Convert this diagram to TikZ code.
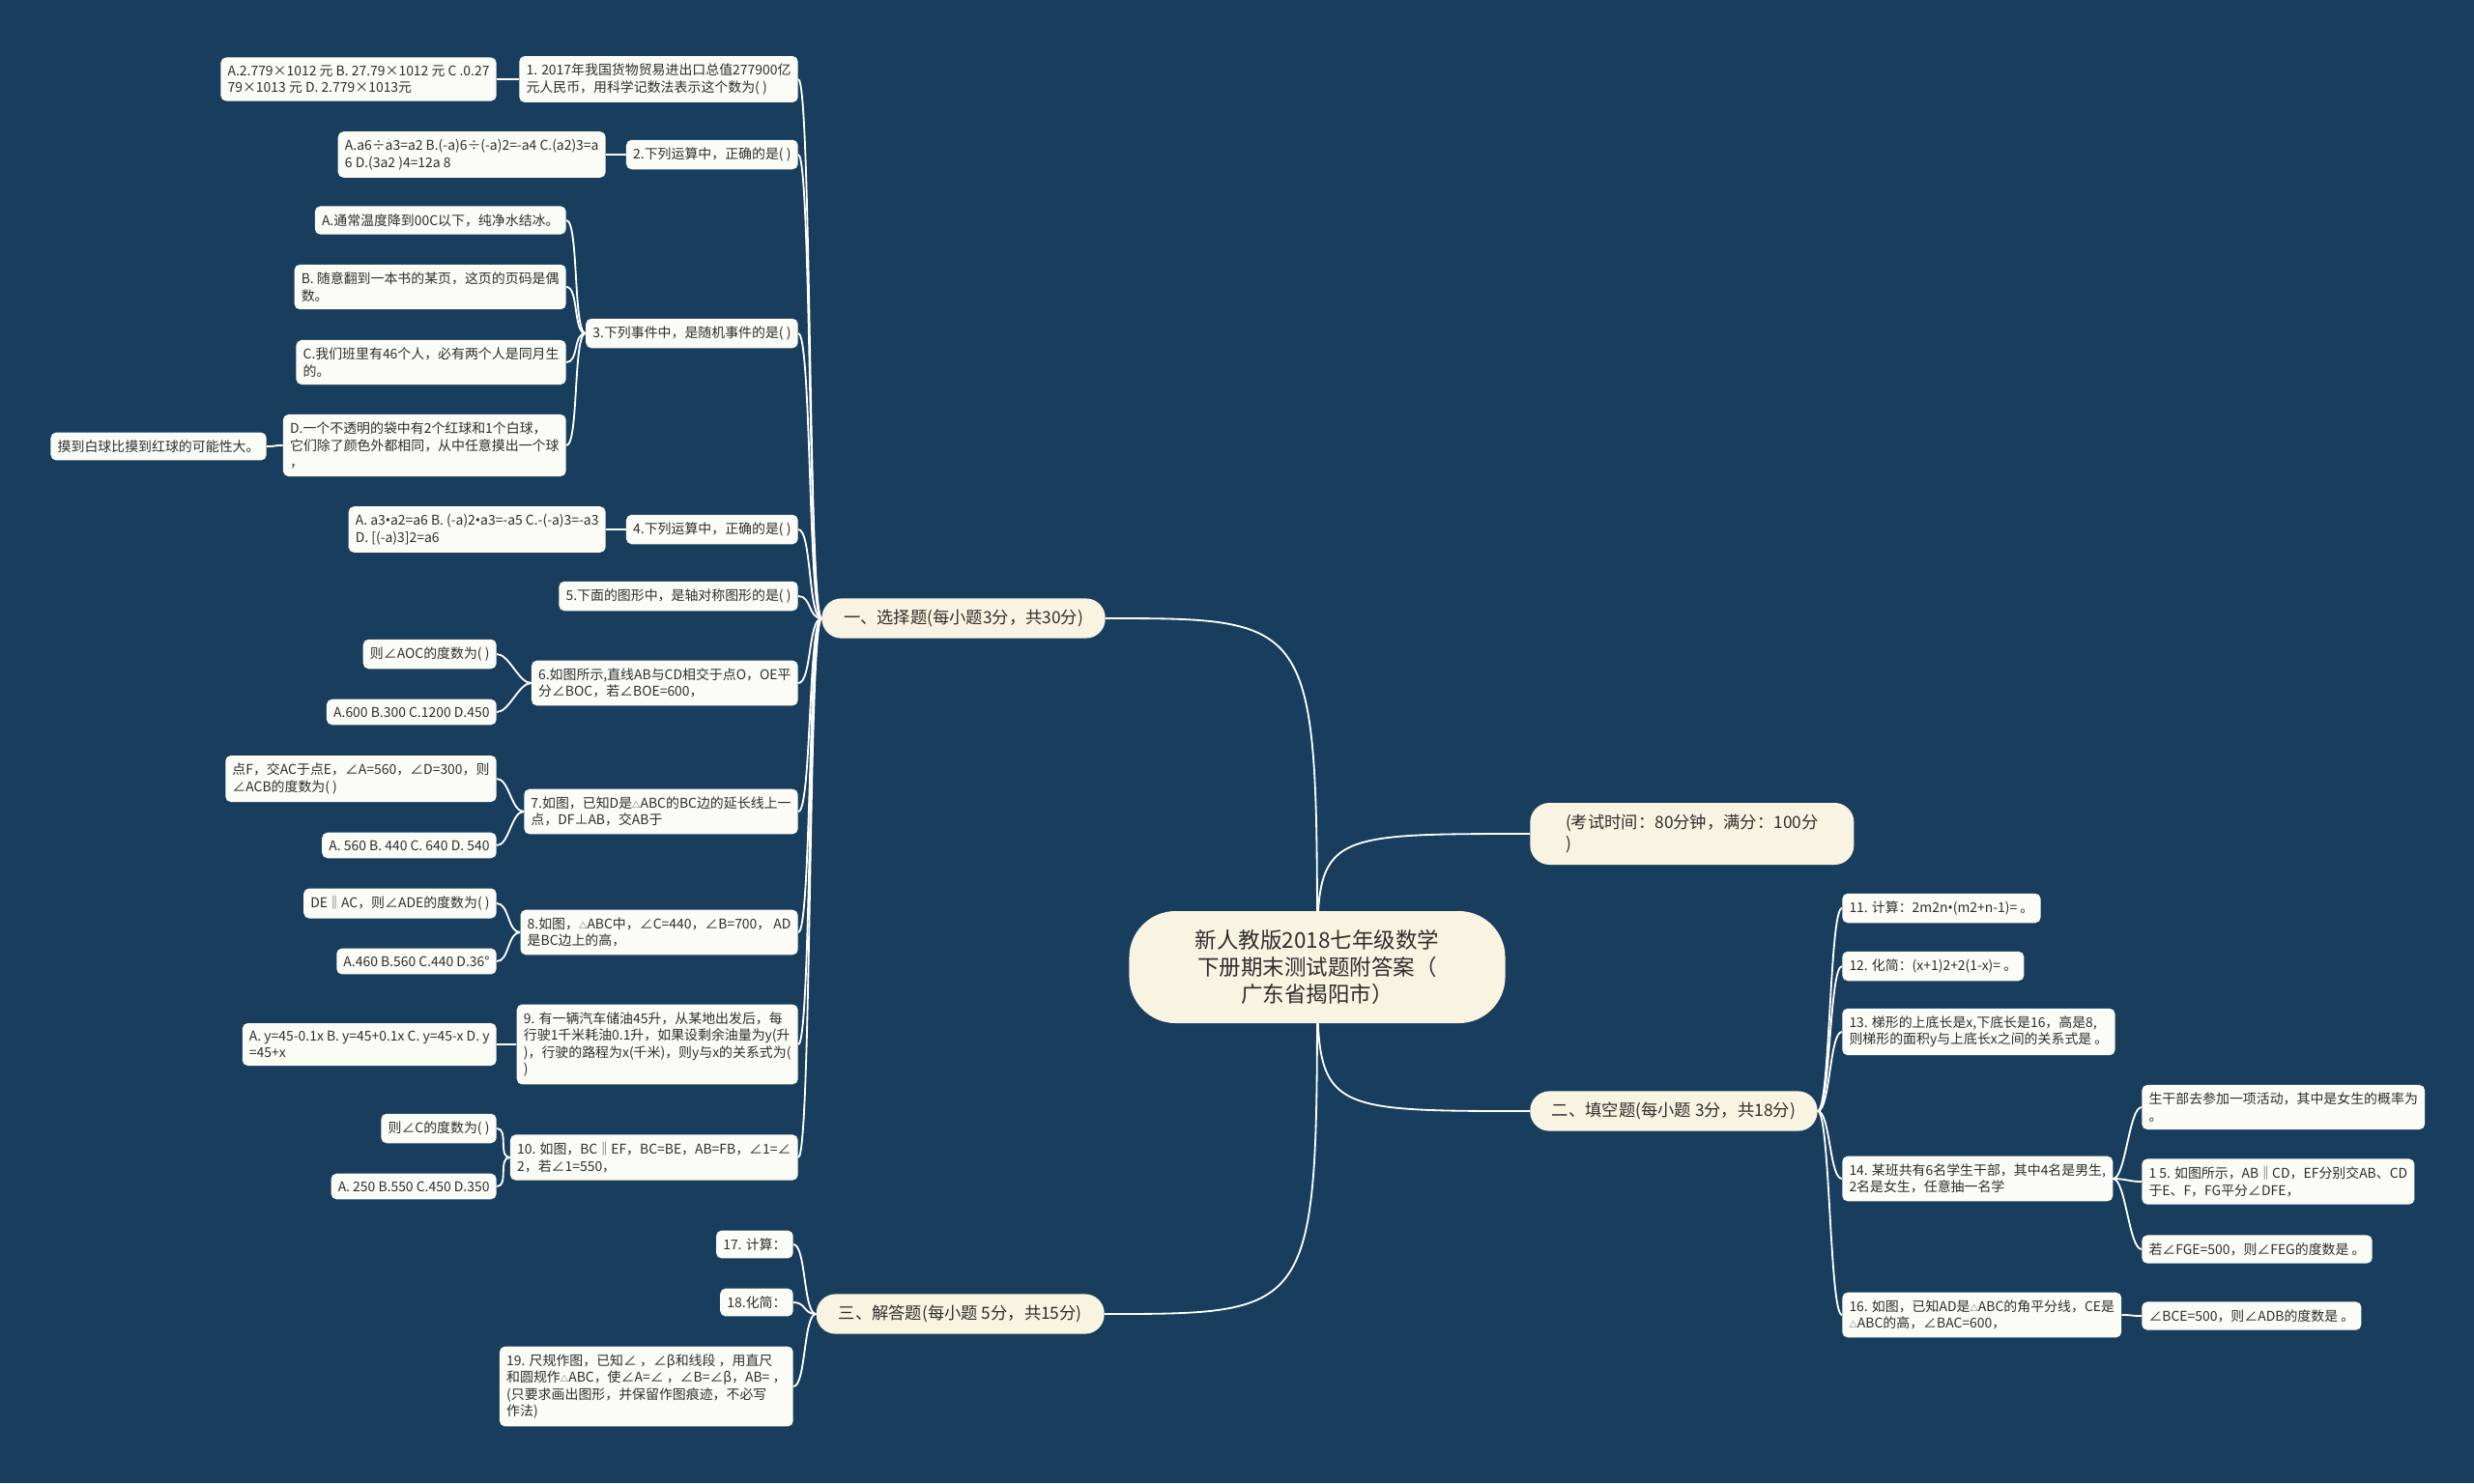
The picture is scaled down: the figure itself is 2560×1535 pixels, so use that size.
\documentclass[tikz,border=0pt]{standalone}
\usepackage{fontspec}
\setmainfont{Noto Sans CJK SC}
\newfontfamily\latinfont{Noto Sans}
\usepackage{xcolor}
\usepackage{tikz}
\usetikzlibrary{backgrounds}
\definecolor{deepblue}{RGB}{24,61,93}
\definecolor{paper}{RGB}{252,252,247}
\definecolor{cream}{RGB}{249,244,225}
\definecolor{ink}{RGB}{45,45,45}
\newcommand{\smtri}{{\fontsize{6}{6}\selectfont △}}
\newcommand{\bdot}{{\latinfont •}}
\tikzset{
  leaf/.style={fill=paper,rounded corners=4pt,align=left,inner xsep=0.18cm,inner ysep=0.2cm,text=ink,font=\fontsize{9.9}{12.4}\selectfont},
  branch/.style={fill=cream,rounded corners=0.5cm,minimum height=1.03cm,text=ink,font=\fontsize{12.3}{15.5}\selectfont},
  link/.style={draw=white,line width=1.3pt}
}

\begin{document}
\begin{tikzpicture}[x=0.025cm,y=-0.025cm]
\useasboundingbox (0,0) rectangle (2560,1535);

\node[fill=cream,rounded corners=1.2cm,minimum width=9.725cm,minimum height=2.9cm,align=center,text=ink,font=\fontsize{16}{19.9}\selectfont] (root) at (1363,1001) {新人教版2018七年级数学\\下册期末测试题附答案（\\广东省揭阳市）};

\node[branch,anchor=west,minimum width=8.375cm,minimum height=1.6cm,align=left] (b0) at (1583,863) {(考试时间：80分钟，满分：100分\\)};
\node[branch,anchor=east,minimum width=7.33cm] (b1) at (1144,640) {一、选择题(每小题3分，共30分)};
\node[branch,anchor=west,minimum width=7.43cm] (b2) at (1583,1150) {二、填空题(每小题 3分，共18分)};
\node[branch,anchor=east,minimum width=7.45cm] (b3) at (1143,1360) {三、解答题(每小题 5分，共15分)};

\node[leaf,anchor=east] (q1) at (826,82) {1. 2017年我国货物贸易进出口总值277900亿\\元人民币，用科学记数法表示这个数为( )};
\node[leaf,anchor=east] (q2) at (826,160) {2.下列运算中，正确的是( )};
\node[leaf,anchor=east] (q3) at (826,345) {3.下列事件中，是随机事件的是( )};
\node[leaf,anchor=east] (q4) at (826,548) {4.下列运算中，正确的是( )};
\node[leaf,anchor=east] (q5) at (826,617) {5.下面的图形中，是轴对称图形的是( )};
\node[leaf,anchor=east] (q6) at (826,707) {6.如图所示,直线AB与CD相交于点O，OE平\\分∠BOC，若∠BOE=600，};
\node[leaf,anchor=east] (q7) at (826,840) {7.如图，已知D是\smtri ABC的BC边的延长线上一\\点，DF⊥AB，交AB于};
\node[leaf,anchor=east] (q8) at (826,965) {8.如图，\smtri ABC中，∠C=440，∠B=700， AD\\是BC边上的高，};
\node[leaf,anchor=east] (q9) at (826,1081) {9. 有一辆汽车储油45升，从某地出发后，每\\行驶1千米耗油0.1升，如果设剩余油量为y(升\\)，行驶的路程为x(千米)，则y与x的关系式为(\\)};
\node[leaf,anchor=east] (q10) at (826,1198) {10. 如图，BC‖EF，BC=BE，AB=FB，∠1=∠\\2，若∠1=550，};

\node[leaf,anchor=east] (a1) at (514,82) {A.2.779×1012 元 B. 27.79×1012 元 C .0.27\\79×1013 元 D. 2.779×1013元};
\node[leaf,anchor=east] (a2) at (627,160) {A.a6÷a3=a2 B.(-a)6÷(-a)2=-a4 C.(a2)3=a\\6 D.(3a2 )4=12a 8};
\node[leaf,anchor=east] (a3A) at (586,228) {A.通常温度降到00C以下，纯净水结冰。};
\node[leaf,anchor=east] (a3B) at (586,297) {B. 随意翻到一本书的某页，这页的页码是偶\\数。};
\node[leaf,anchor=east] (a3C) at (586,375) {C.我们班里有46个人，必有两个人是同月生\\的。};
\node[leaf,anchor=east] (a3D) at (586,461) {D.一个不透明的袋中有2个红球和1个白球，\\它们除了颜色外都相同，从中任意摸出一个球\\，};
\node[leaf,anchor=east] (a3E) at (276,462) {摸到白球比摸到红球的可能性大。};
\node[leaf,anchor=east] (a4) at (627,548) {A. a3\bdot a2=a6 B. (-a)2\bdot a3=-a5 C.-(-a)3=-a3\\D. [(-a)3]2=a6};
\node[leaf,anchor=east] (a6a) at (514,677) {则∠AOC的度数为( )};
\node[leaf,anchor=east] (a6b) at (514,737) {A.600 B.300 C.1200 D.450};
\node[leaf,anchor=east] (a7a) at (514,806) {点F，交AC于点E，∠A=560，∠D=300，则\\∠ACB的度数为( )};
\node[leaf,anchor=east] (a7b) at (514,875) {A. 560 B. 440 C. 640 D. 540};
\node[leaf,anchor=east] (a8a) at (514,935) {DE‖AC，则∠ADE的度数为( )};
\node[leaf,anchor=east] (a8b) at (514,995) {A.460 B.560 C.440 D.36°};
\node[leaf,anchor=east] (a9) at (514,1081) {A. y=45-0.1x B. y=45+0.1x C. y=45-x D. y\\=45+x};
\node[leaf,anchor=east] (a10a) at (514,1168) {则∠C的度数为( )};
\node[leaf,anchor=east] (a10b) at (514,1228) {A. 250 B.550 C.450 D.350};

\node[leaf,anchor=east] (q17) at (821,1288) {17. 计算：};
\node[leaf,anchor=east] (q18) at (821,1348) {18.化简：};
\node[leaf,anchor=east] (q19) at (821,1435) {19. 尺规作图，已知∠ ，∠β和线段 ，用直尺\\和圆规作\smtri ABC，使∠A=∠ ，∠B=∠β，AB= ，\\(只要求画出图形，并保留作图痕迹，不必写\\作法)};

\node[leaf,anchor=west] (q11) at (1906,940) {11. 计算：2m2n\bdot(m2+n-1)= 。};
\node[leaf,anchor=west] (q12) at (1906,1000) {12. 化简：(x+1)2+2(1-x)= 。};
\node[leaf,anchor=west] (q13) at (1906,1068) {13. 梯形的上底长是x,下底长是16，高是8,\\则梯形的面积y与上底长x之间的关系式是 。};
\node[leaf,anchor=west] (q14) at (1906,1220) {14. 某班共有6名学生干部，其中4名是男生,\\2名是女生，任意抽一名学};
\node[leaf,anchor=west] (q16) at (1906,1361) {16. 如图，已知AD是\smtri ABC的角平分线，CE是\\\smtri ABC的高，∠BAC=600，};
\node[leaf,anchor=west] (a14a) at (2216,1146) {生干部去参加一项活动，其中是女生的概率为\\。};
\node[leaf,anchor=west] (a14b) at (2216,1223) {1 5. 如图所示，AB‖CD，EF分别交AB、CD\\于E、F，FG平分∠DFE，};
\node[leaf,anchor=west] (a14c) at (2216,1293) {若∠FGE=500，则∠FEG的度数是 。};
\node[leaf,anchor=west] (a16) at (2216,1362) {∠BCE=500，则∠ADB的度数是 。};

\begin{scope}[on background layer]
\fill[deepblue] (0,0) rectangle (2560,1535);
\draw[link] (root.center) .. controls (root.center |- b0.west) .. (b0.west);
\draw[link] (root.center) .. controls (root.center |- b1.east) .. (b1.east);
\draw[link] (root.center) .. controls (root.center |- b2.west) .. (b2.west);
\draw[link] (root.center) .. controls (root.center |- b3.east) .. (b3.east);
\foreach \q in {q1,q2,q3,q4,q5,q6,q7,q8,q9,q10}
  \draw[link] (b1.west) .. controls +(-14,0) and +(14,0) .. (\q.east);
\foreach \q in {q17,q18,q19}
  \draw[link] (b3.west) .. controls +(-13,0) and +(13,0) .. (\q.east);
\foreach \q in {q11,q12,q13,q14,q16}
  \draw[link] (b2.east) .. controls +(13,0) and +(-13,0) .. (\q.west);
\foreach \p/\c in {q1/a1,q2/a2,q3/a3A,q3/a3B,q3/a3C,q3/a3D,a3D/a3E,q4/a4,q6/a6a,q6/a6b,q7/a7a,q7/a7b,q8/a8a,q8/a8b,q9/a9,q10/a10a,q10/a10b}
  \draw[link] (\p.west) .. controls +(-13,0) and +(13,0) .. (\c.east);
\foreach \p/\c in {q14/a14a,q14/a14b,q14/a14c,q16/a16}
  \draw[link] (\p.east) .. controls +(13,0) and +(-13,0) .. (\c.west);
\end{scope}
\end{tikzpicture}
\end{document}
